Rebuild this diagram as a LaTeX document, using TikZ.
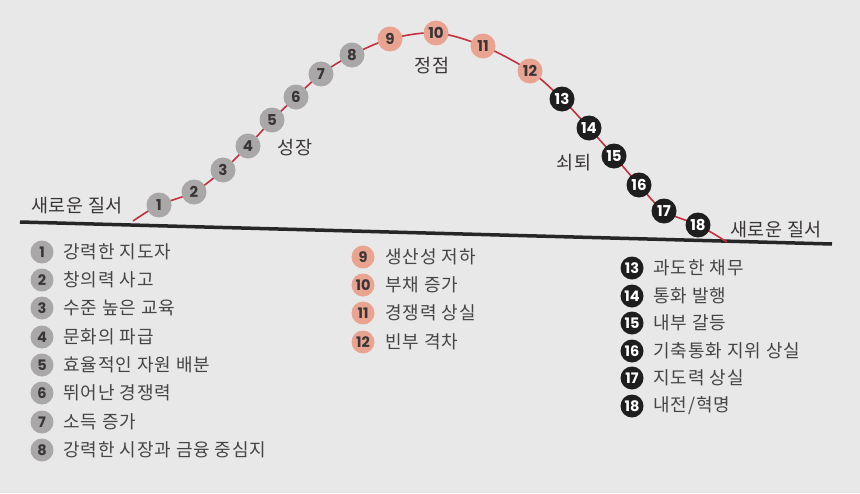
\documentclass[tikz,border=0pt]{standalone}
\usepackage{fontspec}
\setmainfont{Noto Sans CJK KR}
\newfontfamily\numfont{Poppins}
\newfontfamily\lgfont{Noto Sans CJK KR}[LetterSpace=5]
\newfontfamily\phfont{Noto Sans CJK KR}[LetterSpace=3]
\definecolor{bgc}{HTML}{E8E8E8}
\definecolor{grayc}{HTML}{A9A7A7}
\definecolor{pinkc}{HTML}{E9A391}
\definecolor{blackc}{HTML}{1F1E1F}
\definecolor{redc}{HTML}{C3303F}
\definecolor{txtc}{HTML}{454545}
\definecolor{numc}{HTML}{3A3636}
\tikzset{
  dot/.style={circle,inner sep=0pt,minimum size=25pt,font=\numfont\bfseries\fontsize{15}{15}\selectfont},
  gdot/.style={dot,fill=grayc,text=numc},
  pdot/.style={dot,fill=pinkc,text=numc},
  bdot/.style={dot,fill=blackc,text=white},
  ldot/.style={circle,inner sep=0pt,minimum size=23pt,font=\numfont\bfseries\fontsize{14.5}{14.5}\selectfont},
  lg/.style={ldot,fill=grayc,text=numc},
  lp/.style={ldot,fill=pinkc,text=numc},
  lb/.style={ldot,fill=blackc,text=white},
  ltxt/.style={anchor=west,inner sep=0pt,text=txtc,font=\lgfont\fontsize{18}{18}\selectfont},
  phase/.style={inner sep=0pt,text=numc,font=\phfont\fontsize{18.5}{18.5}\selectfont},
}
\begin{document}
\begin{tikzpicture}[x=1pt,y=-1pt]
\fill[bgc] (0,0) rectangle (860,493);
\useasboundingbox (0,0) rectangle (860,493);
% baseline
\coordinate (bl) at (20,222);
\coordinate (br) at (832,244);
\draw[line width=3.5pt,color=black!85] (bl) -- (br);
% curve points
\coordinate (s) at (133,221);
\coordinate (p1) at (159,205);
\coordinate (p2) at (194,192);
\coordinate (p3) at (223,170);
\coordinate (p4) at (248,146);
\coordinate (p5) at (272,120);
\coordinate (p6) at (296,97);
\coordinate (p7) at (321,74);
\coordinate (p8) at (352,55);
\coordinate (p9) at (390,39);
\coordinate (p10) at (436,33);
\coordinate (p11) at (483,46);
\coordinate (p12) at (530,71);
\coordinate (p13) at (562,99);
\coordinate (p14) at (589,128);
\coordinate (p15) at (614,156);
\coordinate (p16) at (639,185);
\coordinate (p17) at (664,211);
\coordinate (p18) at (698,225);
\coordinate (e) at (727,242);
\draw[redc,line width=1.6pt] plot[smooth,tension=0.55] coordinates {(s) (p1) (p2) (p3) (p4) (p5) (p6) (p7) (p8) (p9) (p10) (p11) (p12) (p13) (p14) (p15) (p16) (p17) (p18) (e)};
\foreach \i in {1,...,8} \node[gdot] (n\i) at (p\i) {\i};
\foreach \i in {9,...,12} \node[pdot] (n\i) at (p\i) {\i};
\foreach \i in {13,...,18} \node[bdot] (n\i) at (p\i) {\i};
% phase labels
\node[phase] (ordl) at (77,206) {새로운 질서};
\node[phase] (grow) at (295,148) {성장};
\node[phase] (peak) at (432,66) {정점};
\node[phase] (decl) at (574,163) {쇠퇴};
\node[phase] (ordr) at (776,230) {새로운 질서};
% legend column 1
\node[lg] (l1) at (42,252) {1}; \node[ltxt] (t1) at (63,252) {강력한 지도자};
\node[lg] (l2) at (42,280) {2}; \node[ltxt] (t2) at (63,280) {창의력 사고};
\node[lg] (l3) at (42,308) {3}; \node[ltxt] (t3) at (63,308) {수준 높은 교육};
\node[lg] (l4) at (42,337) {4}; \node[ltxt] (t4) at (63,337) {문화의 파급};
\node[lg] (l5) at (42,365) {5}; \node[ltxt] (t5) at (63,365) {효율적인 자원 배분};
\node[lg] (l6) at (42,393) {6}; \node[ltxt] (t6) at (63,393) {뛰어난 경쟁력};
\node[lg] (l7) at (42,422) {7}; \node[ltxt] (t7) at (63,422) {소득 증가};
\node[lg] (l8) at (42,450) {8}; \node[ltxt] (t8) at (63,450) {강력한 시장과 금융 중심지};
% legend column 2
\node[lp] (l9) at (363,257) {9}; \node[ltxt] (t9) at (385,257) {생산성 저하};
\node[lp] (l10) at (363,285) {10}; \node[ltxt] (t10) at (385,285) {부채 증가};
\node[lp] (l11) at (363,313) {11}; \node[ltxt] (t11) at (385,313) {경쟁력 상실};
\node[lp] (l12) at (363,342) {12}; \node[ltxt] (t12) at (385,342) {빈부 격차};
% legend column 3
\node[lb] (l13) at (632,268) {13}; \node[ltxt] (t13) at (653,268) {과도한 채무};
\node[lb] (l14) at (632,296) {14}; \node[ltxt] (t14) at (653,296) {통화 발행};
\node[lb] (l15) at (632,323) {15}; \node[ltxt] (t15) at (653,323) {내부 갈등};
\node[lb] (l16) at (632,351) {16}; \node[ltxt] (t16) at (653,351) {기축통화 지위 상실};
\node[lb] (l17) at (632,378) {17}; \node[ltxt] (t17) at (653,378) {지도력 상실};
\node[lb] (l18) at (632,406) {18}; \node[ltxt] (t18) at (653,406) {내전/혁명};
\end{tikzpicture}
\end{document}
